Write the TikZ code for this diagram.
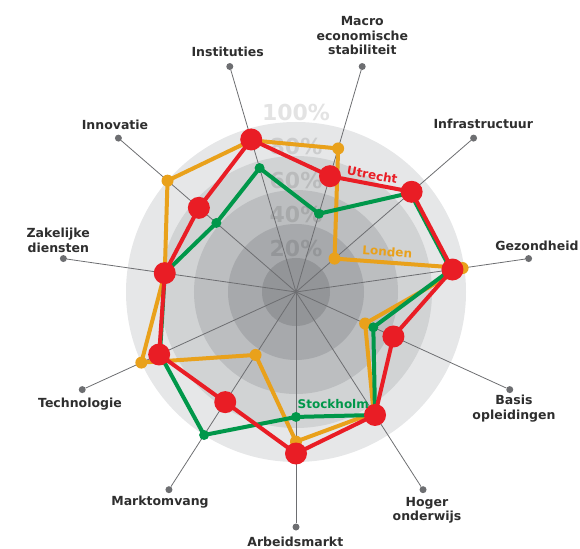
\documentclass[tikz,border=0pt]{standalone}
\usepackage{fontspec}
\setmainfont{DejaVu Sans}
\usepackage{tikz}
\usetikzlibrary{calc}
\definecolor{utrecht}{HTML}{E91D25}
\definecolor{londen}{HTML}{E9A11B}
\definecolor{stockholm}{HTML}{00974A}
\definecolor{ringA}{HTML}{E6E7E8}
\definecolor{ringB}{HTML}{D1D3D4}
\definecolor{ringC}{HTML}{BCBEC0}
\definecolor{ringD}{HTML}{A7A9AC}
\definecolor{ringE}{HTML}{939598}
\definecolor{asgrijs}{HTML}{6D6E71}
\definecolor{tekstgrijs}{HTML}{2E2E2E}

\begin{document}
\begin{tikzpicture}[x=1pt, y=1pt,
    lbl/.style={font=\fontsize{12.5}{14.5}\selectfont\bfseries, text=tekstgrijs, align=center, inner sep=0pt},
    pct/.style={font=\fontsize{22}{22}\selectfont\bfseries, text=black, text opacity=0.11, anchor=base, inner sep=0pt},
    serie/.style={font=\fontsize{12}{12}\selectfont\bfseries, inner sep=0pt},
    asdot/.style={circle, fill=asgrijs, inner sep=0pt, minimum size=7pt},
    lijn/.style={line width=4pt, line join=round}]
        \useasboundingbox (-296,-256) rectangle (284,292);

        % Ringen
        \foreach \r/\c in {170/ringA, 136/ringB, 102/ringC, 68/ringD, 34/ringE}
            \fill[\c] (0,0) circle (\r);

        % Percentages
        \foreach \r/\p in {34/20, 68/40, 102/60, 136/80, 170/100}
            \node[pct] (p\p) at (0,\r+1) {\p\%};

        % Assen
        \coordinate (O) at (0,0);
        \foreach \k in {0,...,10} {
            \node[asdot] (e\k) at ({-90+\k*360/11}:235) {};
            \draw[asgrijs, line width=0.8pt] (O) -- (e\k);
        }

        % Londen
        \foreach \v [count=\k from 0] in {.88,.845,.447,.99,.30,.88,.93,1.0,.78,1.0,.44}
            \coordinate (l\k) at ({-90+\k*360/11}:\v*170);
        \draw[lijn, londen] (l0) \foreach \k in {1,...,10} {-- (l\k)} -- cycle;
        \foreach \k in {0,...,10}
            \fill[londen] (l\k) circle (6);

        % Stockholm
        \foreach \v [count=\k from 0] in {.735,.86,.50,.92,.89,.48,.76,.62,.78,.88,1.0}
            \coordinate (s\k) at ({-90+\k*360/11}:\v*170);
        \draw[lijn, stockholm] (s0) \foreach \k in {1,...,10} {-- (s\k)} -- cycle;
        \foreach \k in {0,...,10}
            \fill[stockholm] (s\k) circle (5);

        % Utrecht
        \foreach \v [count=\k from 0] in {.95,.86,.63,.93,.90,.71,.935,.756,.78,.885,.77}
            \coordinate (u\k) at ({-90+\k*360/11}:\v*170);
        \draw[lijn, utrecht] (u0) \foreach \k in {1,...,10} {-- (u\k)} -- cycle;
        \foreach \k in {0,...,10}
            \fill[utrecht] (u\k) circle (11);

        % Namen van de steden
        \node[serie, text=utrecht, rotate=-10] (nu) at (76.3,117) {Utrecht};
        \node[serie, text=londen, rotate=-4] (nl) at (91.3,40.3) {Londen};
        \node[serie, text=stockholm] (ns) at (37.3,-112) {Stockholm};

        % Labels bij de assen
        \node[lbl] (n0) at (-0.7,-249.7) {Arbeidsmarkt};
        \node[lbl] (n1) at (131,-218.3) {Hoger\\onderwijs};
        \node[lbl] (n2) at (218,-116.5) {Basis\\opleidingen};
        \node[lbl] (n3) at (241,46) {Gezondheid};
        \node[lbl] (n4) at (187.3,167.7) {Infrastructuur};
        \node[lbl] (n5) at (66.3,256.3) {Macro\\economische\\stabiliteit};
        \node[lbl] (n6) at (-68.3,240) {Instituties};
        \node[lbl] (n7) at (-181,167) {Innovatie};
        \node[lbl] (n8) at (-237.7,51.7) {Zakelijke\\diensten};
        \node[lbl] (n9) at (-216,-111.7) {Technologie};
        \node[lbl] (n10) at (-136,-210.3) {Marktomvang};
    \end{tikzpicture}
\end{document}
